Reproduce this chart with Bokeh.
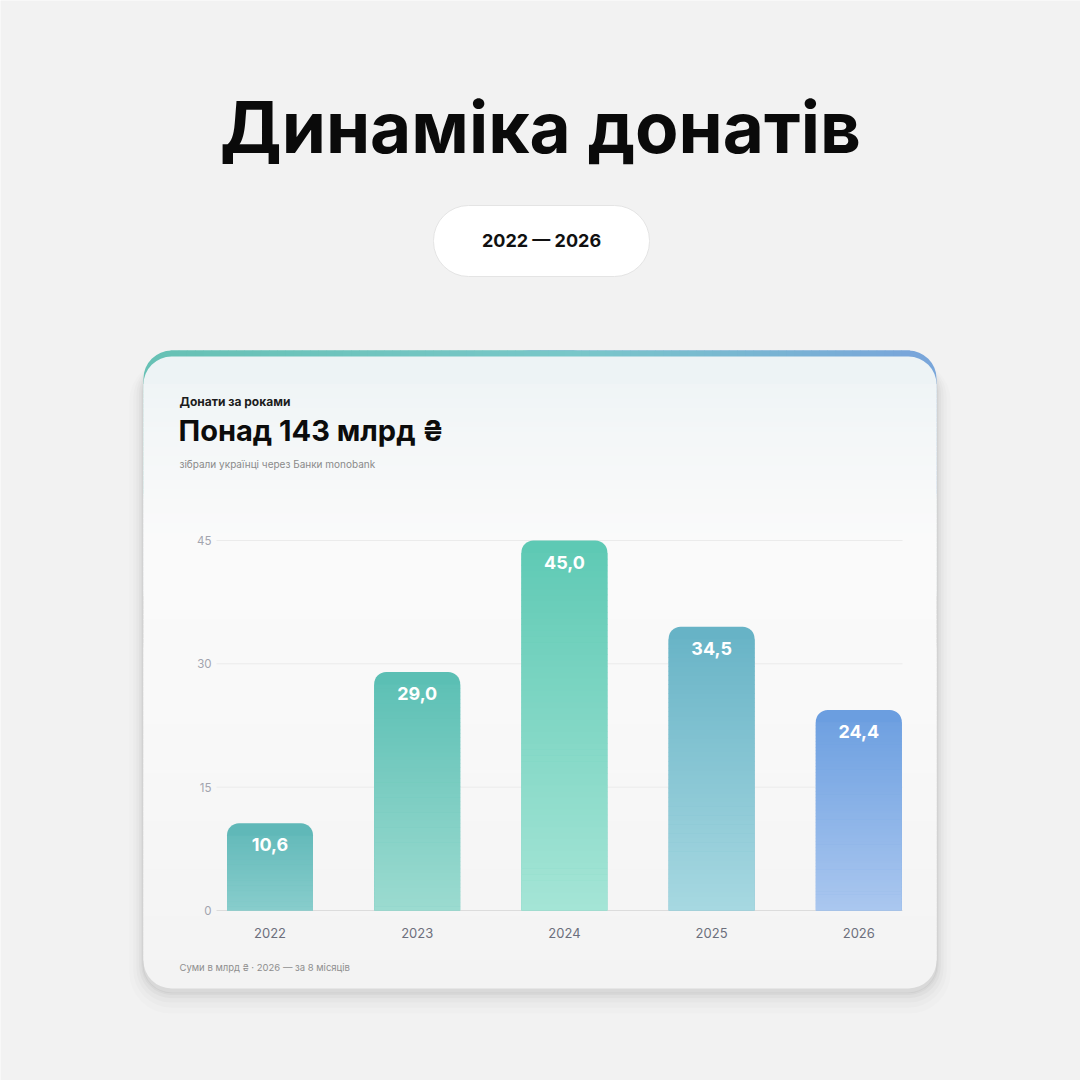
import numpy as np
from bokeh.plotting import figure
from bokeh.models import Range1d, ColumnDataSource
from bokeh.core.properties import value
from bokeh.embed import file_html
from bokeh.resources import INLINE

# ---------------- data ----------------
years = ["2022", "2023", "2024", "2025", "2026"]
donations = [10.6, 29.0, 45.0, 34.5, 24.4]
bar_labels = ["10,6", "29,0", "45,0", "34,5", "24,4"]
y_ticks = [0, 15, 30, 45]
y_tick_labels = ["0", "15", "30", "45"]

title_text = "Динаміка донатів"
period_text = "2022 — 2026"
kicker_text = "Донати за роками"
headline_text = "Понад 143 млрд ₴"
sub_text = "зібрали українці через Банки monobank"
footnote_text = "Суми в млрд ₴  ·  2026 — за 8 місяців"

# ---------------- styles ----------------
bar_top_colors = ["#60b8b8", "#5bbfb4", "#5ec9b4", "#67b3c6", "#6b9ee0"]
bar_bottom_colors = ["#88cdcc", "#9cdbd0", "#a5e5d6", "#a7d8e1", "#aac7ef"]
BG = "#f2f2f2"
BODY_FONT = value("Inter")
TITLE_FONT = value("Inter")

W = H = 1080


def Y(ry):
    # reference pixel row -> main data y
    return H - np.asarray(ry, dtype=float)


def hex2rgb(h):
    return tuple(int(h[i:i + 2], 16) for i in (1, 3, 5))


def mix(c1, c2, t):
    a, b = hex2rgb(c1), hex2rgb(c2)
    t = min(max(t, 0.0), 1.0)
    return "#%02x%02x%02x" % tuple(int(round(a[i] + (b[i] - a[i]) * t)) for i in range(3))


def grad(stops, pos):
    for (p0, c0), (p1, c1) in zip(stops[:-1], stops[1:]):
        if pos <= p1:
            return mix(c0, c1, (pos - p0) / (p1 - p0))
    return stops[-1][1]


# chart geometry (pixel anchors of the plotting area)
Y0_PX, Y45_PX = 910.0, 540.0
k = (Y0_PX - Y45_PX) / 45.0
X0_PX, DX_PX = 269.5, 147.2

p = figure(width=W, height=H, x_range=Range1d(0, W), y_range=Range1d(0, H),
           x_axis_type=None, y_axis_type=None, output_backend="svg", toolbar_location=None,
           min_border=0, background_fill_color=BG, border_fill_color=BG, outline_line_color=None)
p.grid.visible = False
p.extra_y_ranges = {"val": Range1d(-(H - Y0_PX) / k, Y0_PX / k)}
p.extra_x_ranges = {"cat": Range1d(-X0_PX / DX_PX, (W - X0_PX) / DX_PX)}


def rquad(l, r, t, b, color, radius=0, alpha=1.0, line_color=None):
    p.quad(left=[l], right=[r], top=[float(Y(t))], bottom=[float(Y(b))], fill_color=color,
           fill_alpha=alpha, line_color=line_color, border_radius=int(round(radius)))


def label(x, ry, txt, size, color, bold=False, align="left", font=BODY_FONT):
    p.text(x=[x], y=[float(Y(ry))], text=[txt], text_font=font, text_font_size=size,
           text_font_style="bold" if bold else "normal", text_align=align,
           text_baseline="middle", text_color=color)


# ---------------- title & pill ----------------
label(540, 126, title_text, "71px", "#0a0a0a", bold=True, align="center", font=TITLE_FONT)
rquad(433, 649, 205, 276, "#ffffff", 35, line_color="#e4e4e4")
label(541, 240, period_text, "18px", "#111111", bold=True, align="center")

# ---------------- card ----------------
CL, CR, CT, CB, RAD = 143, 936, 356, 988, 28
for spread, alpha in [(26, 0.012), (19, 0.016), (13, 0.02), (8, 0.026), (4, 0.032), (2, 0.04)]:
    rquad(CL - spread * 0.55, CR + spread * 0.55, CT - spread * 0.1 + 6, CB + spread * 0.85 + 3,
          "#000000", RAD + spread * 0.5, alpha)
rquad(CL, CR, CT + 6, CB + 4, "#d9d9d9", RAD)

# coloured top border
border_left, border_mid, border_right = "#67c1b5", "#79c7c9", "#79a6da"
rquad(CL, 600, CT - 6, 520, border_left, RAD)
rquad(500, CR, CT - 6, 520, border_right, RAD)
nb = 90
bx = np.linspace(CL + RAD - 1, CR - RAD + 1, nb + 1)
bcols = [grad([(0, border_left), (0.55, border_mid), (1, border_right)], (i + 0.5) / nb) for i in range(nb)]
p.quad(left=bx[:-1], right=bx[1:] + 0.6, top=float(Y(CT - 6)), bottom=float(Y(CT + 8)),
       fill_color=bcols, line_color=None)

# card body with vertical gradient
card_stops = [(CT, "#edf3f5"), (440, "#f4f7f8"), (540, "#fafafa"), (700, "#f9f9f9"), (CB, "#f3f3f3")]
rquad(CL, CR, CT, 620, card_stops[0][1], RAD)
rquad(CL, CR, 620, CB, card_stops[-1][1], RAD)
ny = 120
ys = np.linspace(CT + RAD, CB - RAD, ny + 1)
ccols = [grad(card_stops, (ys[i] + ys[i + 1]) / 2) for i in range(ny)]
p.quad(left=CL, right=CR, top=Y(ys[:-1]) + 0.6, bottom=Y(ys[1:]), fill_color=ccols, line_color=None)

# card header texts
label(179, 401, kicker_text, "12px", "#1c1c1c", bold=True)
label(178, 429.5, headline_text, "29px", "#0c0c0c", bold=True)
label(179, 463, sub_text, "10px", "#8a8a8a")
label(179, 966.5, footnote_text, "9.5px", "#8e8e8e")

# ---------------- chart ----------------
grid_colors = ["#dcdcdc" if t == 0 else "#ebebeb" for t in y_ticks]
p.segment(x0=216, x1=902, y0=y_ticks, y1=y_ticks, line_color=grid_colors, line_width=1,
          y_range_name="val")
p.text(x=211, y=y_ticks, text=y_tick_labels, text_font=BODY_FONT, text_font_size="11.5px",
       text_align="right", text_baseline="middle", text_color="#a2a4ae", y_range_name="val")

idx = list(range(len(years)))
bw = 86.0 / DX_PX
bars = ColumnDataSource(dict(x=idx, top=donations, color=bar_top_colors))
p.vbar(x="x", top="top", bottom=0, width=bw, fill_color="color", line_color=None,
       border_radius=(12, 12, 0, 0), source=bars, x_range_name="cat", y_range_name="val")

# vertical gradient inside each bar
r_val = 13.0 / k
eps = 0.6 / k
sl, sr, sb, st, sc = [], [], [], [], []
n_strips = 60
for i, v in enumerate(donations):
    tmax = v - r_val
    for j in range(n_strips):
        b = tmax * j / n_strips
        t = tmax * (j + 1) / n_strips
        f = ((b + t) / 2) / v
        sl.append(i - bw / 2)
        sr.append(i + bw / 2)
        sb.append(b)
        st.append(t + eps)
        sc.append(mix(bar_bottom_colors[i], bar_top_colors[i], f))
p.quad(left=sl, right=sr, bottom=sb, top=st, fill_color=sc, line_color=None,
       x_range_name="cat", y_range_name="val")

# value labels on bars
p.text(x=idx, y=[v - 21.5 / k for v in donations], text=bar_labels, text_font=BODY_FONT,
       text_font_size="18px", text_font_style="bold", text_align="center", text_baseline="middle",
       text_color="#ffffff", x_range_name="cat", y_range_name="val")

# year labels
p.text(x=idx, y=float(Y(932)), text=years, text_font=BODY_FONT, text_font_size="13px",
       text_align="center", text_baseline="middle", text_color="#6c6f7c", x_range_name="cat")

open("out.html", "w").write(file_html(p, INLINE))
